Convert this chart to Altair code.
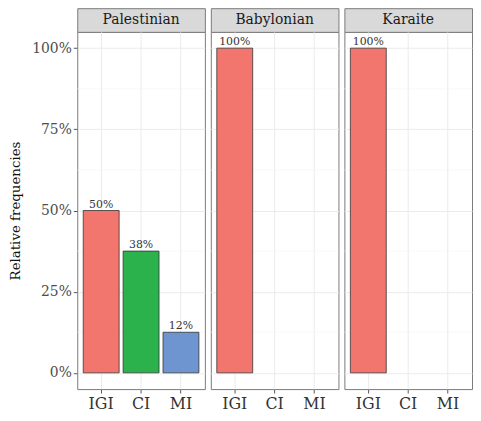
import altair as alt
import pandas as pd

groups = ["Palestinian", "Babylonian", "Karaite"]
categories = ["IGI", "CI", "MI"]
pal_cats = ["IGI", "CI", "MI"]
pal_values = [0.50, 0.375, 0.125]
pal_labels = ["50%", "38%", "12%"]
bab_cats = ["IGI"]
bab_values = [1.00]
bab_labels = ["100%"]
kar_cats = ["IGI"]
kar_values = [1.00]
kar_labels = ["100%"]
major_ticks = [0, 0.25, 0.5, 0.75, 1.0]
minor_ticks = [0.125, 0.375, 0.625, 0.875]
colors = ["#F3766E", "#2BB24C", "#6F95D1"]

FONT = "DejaVu Serif"
BORDER = "#7a7a7a"
W = 129
H = 361

rows = []
for g, cs, vs, ls in [("Palestinian", pal_cats, pal_values, pal_labels),
                      ("Babylonian", bab_cats, bab_values, bab_labels),
                      ("Karaite", kar_cats, kar_values, kar_labels)]:
    for c, v, l in zip(cs, vs, ls):
        rows.append({"group": g, "cat": c, "val": v, "label": l})
df = pd.DataFrame(rows)

xscale = alt.Scale(domain=categories, paddingInner=0.1, paddingOuter=0.15)
yscale = alt.Scale(domain=[-0.05, 1.05], nice=False)
cscale = alt.Scale(domain=categories, range=colors)

xaxis = alt.Axis(title=None, grid=True, gridColor="#EBEBEB", domain=False,
                 ticks=True, tickSize=4, tickColor="#555555", labelAngle=0,
                 labelFont=FONT, labelFontSize=16, labelColor="#333333",
                 labelPadding=3)


def yaxis(first):
    if first:
        return alt.Axis(values=major_ticks, format="%", title="Relative frequencies",
                        grid=True, gridColor="#EBEBEB", domain=False,
                        tickSize=4, tickColor="#555555",
                        labelFont=FONT, labelFontSize=14, labelColor="#4D4D4D",
                        labelPadding=2, titleFont=FONT, titleFontSize=13.5,
                        titleFontWeight="normal", titleColor="#111111",
                        titlePadding=9)
    return alt.Axis(values=major_ticks, labels=False, ticks=False, title=None,
                    grid=True, gridColor="#EBEBEB", domain=False)


def panel(g, first):
    d = df[df.group == g]
    minor = alt.Chart(pd.DataFrame({"m": minor_ticks})).mark_rule(
        color="#F3F3F3", strokeWidth=0.6
    ).encode(y=alt.Y("m:Q", scale=yscale, axis=yaxis(first)))
    bars = alt.Chart(d).mark_bar(stroke="#333333", strokeWidth=0.8).encode(
        x=alt.X("cat:N", scale=xscale, axis=xaxis, sort=categories),
        y=alt.Y("val:Q", scale=yscale, axis=yaxis(first)),
        color=alt.Color("cat:N", scale=cscale, legend=None),
    )
    text = alt.Chart(d).mark_text(font=FONT, fontSize=11, color="#333333",
                                  baseline="bottom", dy=-1).encode(
        x=alt.X("cat:N", scale=xscale, axis=xaxis, sort=categories),
        y=alt.Y("val:Q", scale=yscale, axis=yaxis(first)),
        text="label:N",
    )
    body = alt.layer(minor, bars, text).properties(
        width=W, height=H,
        view=alt.ViewBackground(stroke=BORDER, strokeWidth=1, fill="white"),
    )
    strip = alt.Chart(pd.DataFrame({"g": [g]})).mark_text(
        font=FONT, fontSize=14, color="#1A1A1A"
    ).encode(text="g:N").properties(
        width=W, height=24,
        view=alt.ViewBackground(fill="#D9D9D9", stroke=BORDER, strokeWidth=1),
    )
    return alt.vconcat(strip, body, spacing=0, bounds="flush")


chart = alt.hconcat(
    *[panel(g, i == 0) for i, g in enumerate(groups)], spacing=4
).properties(
    padding={"left": 0, "top": -3, "right": 0, "bottom": 0},
    background="white",
).configure_view(stroke=BORDER)

chart.save("out.html", embed_options={"renderer": "svg", "actions": False})
